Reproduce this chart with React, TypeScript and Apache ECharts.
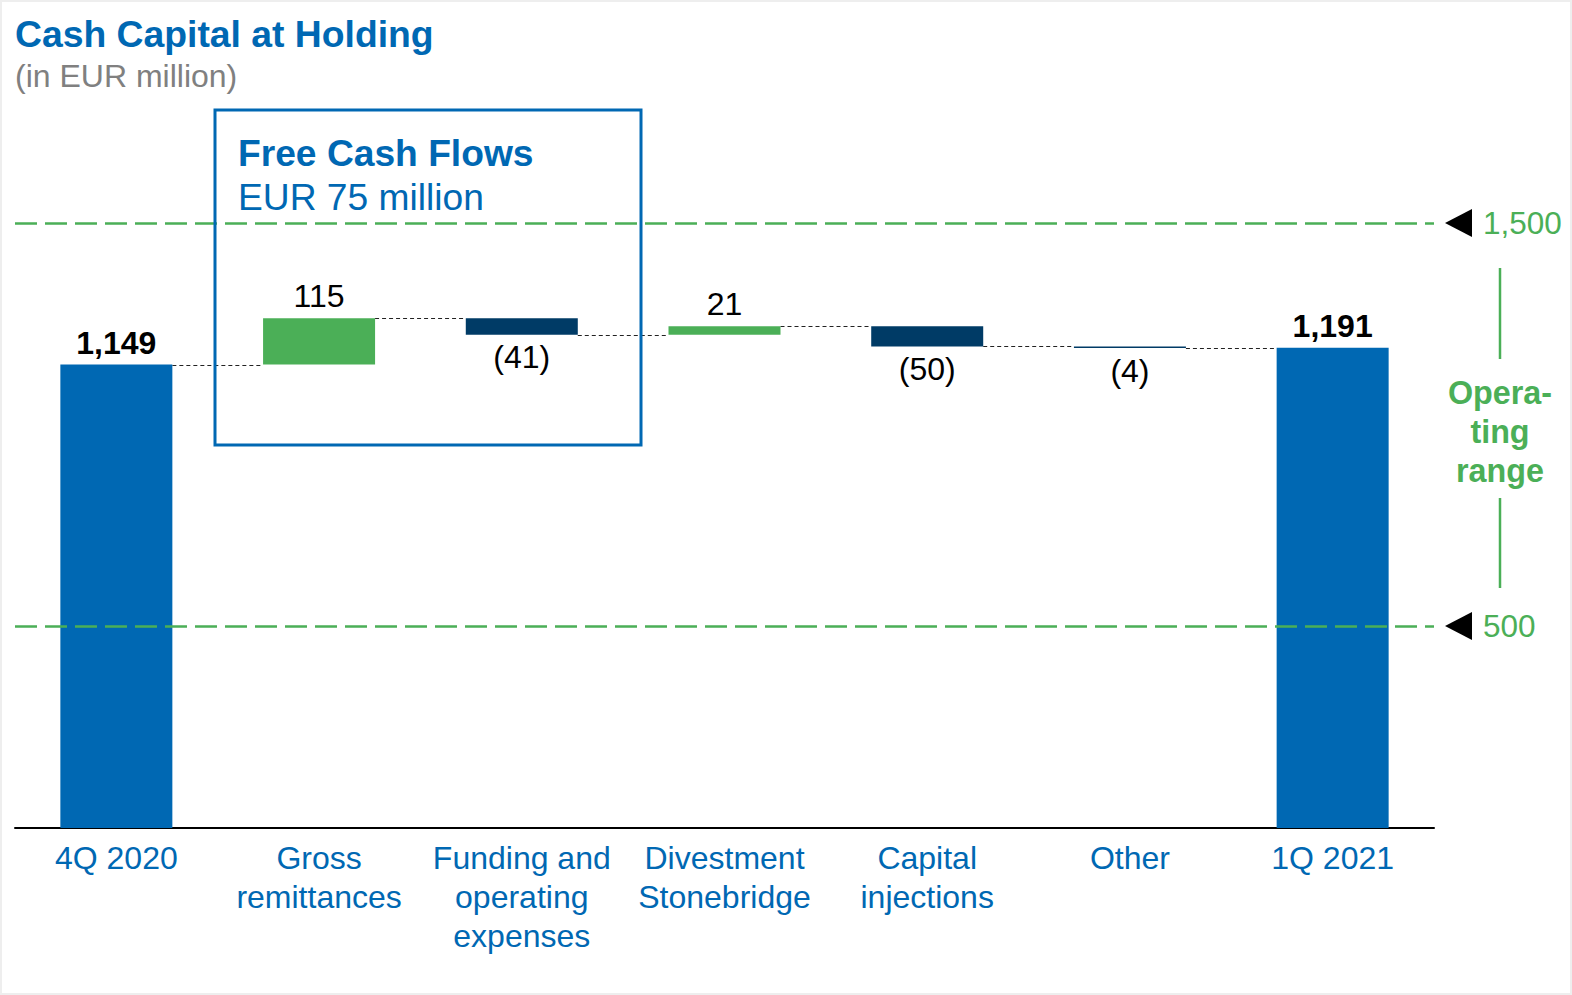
import React, { useEffect, useRef } from "react";
import * as echarts from "echarts";

const categories = [
  "4Q 2020",
  "Gross\nremittances",
  "Funding and\noperating\nexpenses",
  "Divestment\nStonebridge",
  "Capital\ninjections",
  "Other",
  "1Q 2021",
];
// "total" bars start at zero; "delta" bars float on the running total
const kinds = ["total", "delta", "delta", "delta", "delta", "delta", "total"];
const values = [1149, 115, -41, 21, -50, -4, 1191];
const rangeLines = [1500, 500];

const FONT = "'Liberation Sans', Arial, Helvetica, sans-serif";
const BLUE = "#0068B3";
const GREEN = "#4BAF57";
const NAVY = "#003B66";

function fmt(n: number) {
  return n.toLocaleString("en-US");
}

export default function App() {
  const ref = useRef<HTMLDivElement>(null);

  useEffect(() => {
    document.body.style.margin = "0";
    if (!ref.current) return;
    const chart = echarts.init(ref.current, null, { renderer: "svg" });

    const base: number[] = [];
    const height: number[] = [];
    const levels: number[] = [];
    let running = 0;
    values.forEach((v, i) => {
      if (kinds[i] === "total") {
        base.push(0);
        height.push(v);
        running = v;
      } else {
        const next = running + v;
        base.push(Math.min(running, next));
        height.push(Math.abs(v));
        running = next;
      }
      levels.push(running);
    });

    const barData = values.map((v, i) => {
      const isTotal = kinds[i] === "total";
      const color = isTotal ? BLUE : v >= 0 ? GREEN : NAVY;
      return {
        value: height[i],
        itemStyle: { color },
        label: {
          show: true,
          position: isTotal || v >= 0 ? "top" : "bottom",
          distance: isTotal || v >= 0 ? 6 : 6.5,
          formatter: isTotal ? fmt(v) : v >= 0 ? fmt(v) : "(" + fmt(-v) + ")",
          fontFamily: FONT,
          fontSize: 32,
          fontWeight: isTotal ? "bold" : "normal",
          color: "#000",
        },
      };
    });

    const connectorData = levels.slice(0, -1).map((l, i) => [i, l]);
    const BAR_W = 112;

    chart.setOption({
      animation: false,
      backgroundColor: "#fff",
      grid: { left: 15, right: 138, top: 223, bottom: 167, containLabel: false },
      xAxis: {
        type: "category",
        data: categories,
        axisLine: { show: true, lineStyle: { color: "#000", width: 2 } },
        axisTick: { show: false },
        axisLabel: {
          color: BLUE,
          fontFamily: FONT,
          fontSize: 32,
          lineHeight: 39,
          margin: 10,
          interval: 0,
          align: "center",
          verticalAlign: "top",
        },
      },
      yAxis: {
        type: "value",
        min: 0,
        max: 1500,
        show: false,
        splitLine: { show: false },
      },
      series: [
        {
          type: "bar",
          stack: "w",
          data: base,
          barWidth: BAR_W,
          itemStyle: { color: "transparent" },
          emphasis: { disabled: true },
          silent: true,
        },
        {
          type: "bar",
          stack: "w",
          data: barData,
          barWidth: BAR_W,
          emphasis: { disabled: true },
          markLine: {
            silent: true,
            symbol: ["none", "none"],
            lineStyle: { color: GREEN, width: 2.5, type: [22, 8] },
            label: {
              show: true,
              position: "end",
              distance: 49,
              formatter: (p: any) => fmt(p.value),
              fontFamily: FONT,
              fontSize: 31.5,
              color: GREEN,
            },
            data: rangeLines.map((y) => ({ yAxis: y })),
            z: 10,
          },
        },
        {
          type: "custom",
          data: connectorData,
          z: 1,
          silent: true,
          renderItem: (params: any, api: any) => {
            const i = api.value(0);
            const lvl = api.value(1);
            const p1 = api.coord([i, lvl]);
            const p2 = api.coord([i + 1, lvl]);
            return {
              type: "line",
              shape: {
                x1: p1[0] + BAR_W / 2,
                y1: Math.round(p1[1]) + 0.5,
                x2: p2[0] - BAR_W / 2,
                y2: Math.round(p1[1]) + 0.5,
              },
              style: { stroke: "#222", lineWidth: 1, lineDash: [4, 3] },
            };
          },
        },
      ],
      graphic: [
        {
          type: "rect",
          shape: { x: 1, y: 1, width: 1570, height: 993 },
          style: { fill: "none", stroke: "#eeeeee", lineWidth: 2 },
          silent: true,
        },
        {
          type: "text",
          x: 15,
          y: 34,
          style: {
            text: "Cash Capital at Holding",
            fontFamily: FONT,
            fontSize: 37.3,
            fontWeight: "bold",
            fill: BLUE,
            verticalAlign: "middle",
          },
        },
        {
          type: "text",
          x: 15,
          y: 76,
          style: {
            text: "(in EUR million)",
            fontFamily: FONT,
            fontSize: 32,
            fill: "#808080",
            verticalAlign: "middle",
          },
        },
        {
          type: "rect",
          shape: { x: 215, y: 110, width: 426, height: 335 },
          style: { fill: "none", stroke: BLUE, lineWidth: 3 },
          z: 20,
        },
        {
          type: "text",
          x: 238,
          y: 152.5,
          style: {
            text: "Free Cash Flows",
            fontFamily: FONT,
            fontSize: 37.2,
            fontWeight: "bold",
            fill: BLUE,
            verticalAlign: "middle",
          },
        },
        {
          type: "text",
          x: 238,
          y: 196.5,
          style: {
            text: "EUR 75 million",
            fontFamily: FONT,
            fontSize: 37.2,
            fill: BLUE,
            verticalAlign: "middle",
          },
        },
        {
          type: "polygon",
          shape: { points: [[1472, 209], [1472, 237], [1445, 223]] },
          style: { fill: "#000" },
        },
        {
          type: "polygon",
          shape: { points: [[1472, 612], [1472, 640], [1445, 626]] },
          style: { fill: "#000" },
        },
        {
          type: "line",
          shape: { x1: 1500, y1: 268, x2: 1500, y2: 359 },
          style: { stroke: GREEN, lineWidth: 2.5 },
        },
        {
          type: "line",
          shape: { x1: 1500, y1: 498, x2: 1500, y2: 588 },
          style: { stroke: GREEN, lineWidth: 2.5 },
        },
        {
          type: "text",
          x: 1500,
          y: 374,
          style: {
            text: "Opera-\nting\nrange",
            fontFamily: FONT,
            fontSize: 32.3,
            fontWeight: "bold",
            lineHeight: 38.7,
            fill: GREEN,
            align: "center",
            verticalAlign: "top",
          },
        },
      ],
    });

    return () => chart.dispose();
  }, []);

  return <div ref={ref} style={{ width: 1572, height: 995 }} />;
}
